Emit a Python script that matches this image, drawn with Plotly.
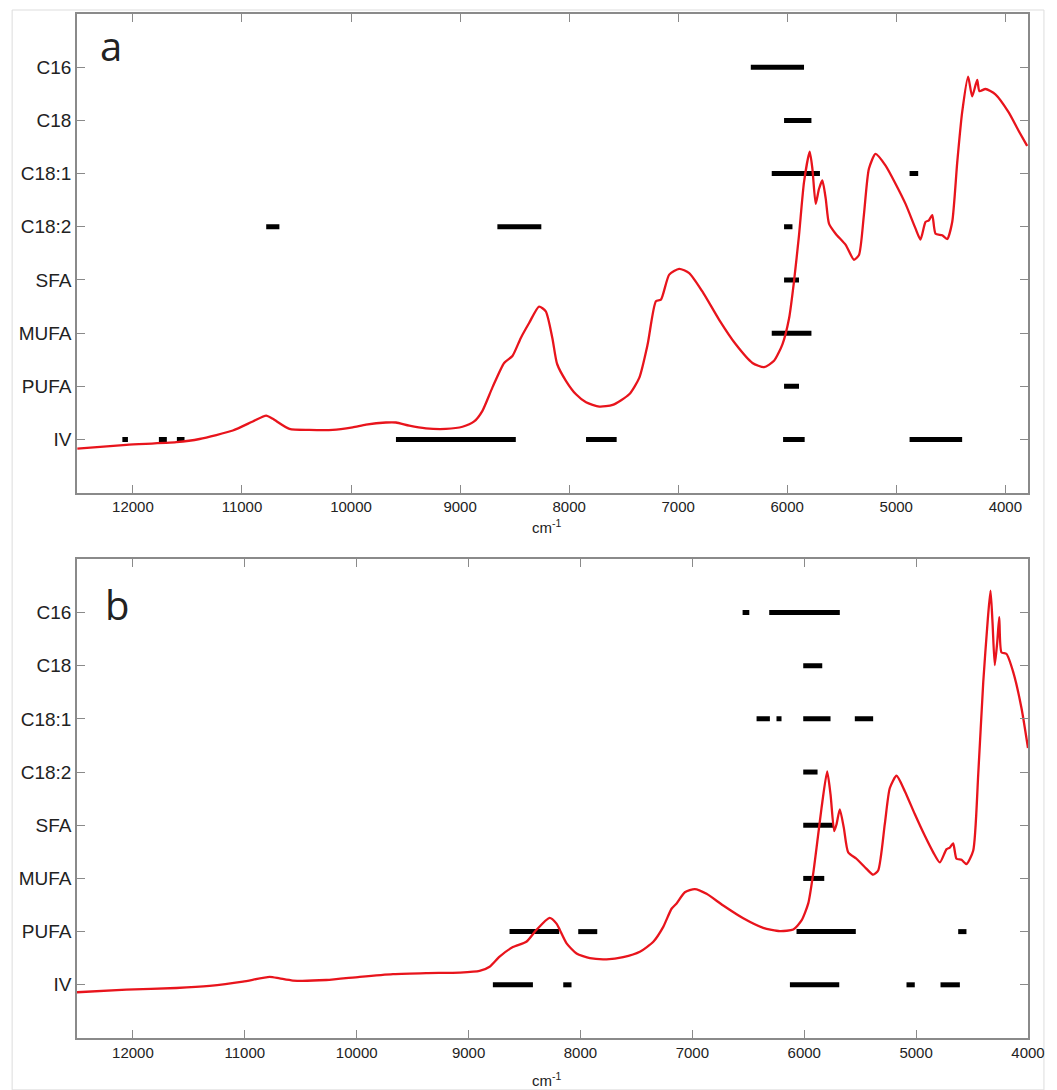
import plotly.graph_objects as go

# ---------------- data ----------------
categories = ["IV", "PUFA", "MUFA", "SFA", "C18:2", "C18:1", "C18", "C16"]
cat_pos = [1, 2, 3, 4, 5, 6, 7, 8]
x_ticks = [12000, 11000, 10000, 9000, 8000, 7000, 6000, 5000, 4000]

# panel a: mean spectrum (wavenumber, relative intensity in category units)
a_wn = [12510, 12060, 11603, 11389, 11084, 10901, 10778, 10718, 10565, 10382,
        10168, 9985, 9863, 9680, 9588, 9466, 9313, 9130, 8978, 8871, 8795, 8703,
        8596, 8520, 8443, 8367, 8276, 8214, 8154, 8110, 8028, 7937, 7845, 7723,
        7601, 7449, 7357, 7280, 7204, 7158, 7082, 6991, 6899, 6777, 6624, 6472,
        6319, 6212, 6121, 6044, 5983, 5938, 5892, 5846, 5794, 5769, 5739, 5709,
        5678, 5647, 5617, 5556, 5464, 5388, 5342, 5297, 5251, 5190, 5098, 5007,
        4915, 4824, 4778, 4732, 4701, 4670, 4640, 4579, 4533, 4487, 4441, 4396,
        4341, 4304, 4258, 4237, 4182, 4091, 3969, 3877, 3800]
a_int = [0.83, 0.90, 0.95, 1.01, 1.17, 1.34, 1.45, 1.39, 1.20, 1.18,
         1.18, 1.23, 1.28, 1.32, 1.32, 1.26, 1.21, 1.20, 1.24, 1.34, 1.54, 1.98,
         2.44, 2.57, 2.91, 3.19, 3.50, 3.41, 2.91, 2.42, 2.10, 1.85, 1.70, 1.62,
         1.65, 1.85, 2.16, 2.79, 3.60, 3.63, 4.10, 4.21, 4.13, 3.78, 3.25, 2.79,
         2.44, 2.36, 2.48, 2.79, 3.28, 3.97, 4.84, 5.84, 6.41, 6.09, 5.43, 5.71,
         5.87, 5.53, 5.06, 4.87, 4.66, 4.38, 4.47, 5.22, 6.09, 6.37, 6.15, 5.81,
         5.43, 4.97, 4.76, 5.09, 5.12, 5.22, 4.87, 4.84, 4.77, 5.09, 6.21, 7.15,
         7.82, 7.45, 7.76, 7.55, 7.59, 7.49, 7.15, 6.80, 6.52]

# panel b: mean spectrum
b_wn = [12500, 12059, 11612, 11315, 11017, 10778, 10689, 10570, 10272, 9974,
        9676, 9378, 9080, 8902, 8812, 8723, 8604, 8484, 8395, 8276, 8214, 8184,
        8124, 8035, 7916, 7767, 7618, 7469, 7349, 7260, 7186, 7141, 7067, 6978,
        6873, 6724, 6545, 6367, 6218, 6098, 6024, 5964, 5920, 5875, 5845, 5795,
        5765, 5732, 5711, 5682, 5646, 5607, 5533, 5443, 5384, 5339, 5280, 5235,
        5175, 5101, 5012, 4922, 4847, 4788, 4728, 4699, 4669, 4639, 4594, 4550,
        4490, 4445, 4400, 4359, 4335, 4317, 4297, 4275, 4257, 4237, 4192, 4132,
        4058, 4000]
b_int = [0.86, 0.91, 0.94, 0.98, 1.06, 1.15, 1.12, 1.08, 1.09, 1.15,
         1.20, 1.22, 1.23, 1.26, 1.34, 1.53, 1.71, 1.81, 2.03, 2.26, 2.15, 2.03,
         1.78, 1.59, 1.50, 1.48, 1.52, 1.62, 1.81, 2.09, 2.43, 2.53, 2.74, 2.80,
         2.71, 2.49, 2.25, 2.07, 2.01, 2.04, 2.21, 2.53, 3.09, 3.83, 4.33, 5.01,
         4.58, 3.89, 4.02, 4.30, 3.95, 3.49, 3.37, 3.18, 3.07, 3.15, 4.02, 4.70,
         4.93, 4.64, 4.21, 3.80, 3.49, 3.30, 3.55, 3.58, 3.66, 3.37, 3.35, 3.27,
         3.52, 4.95, 6.69, 7.88, 8.41, 7.81, 7.01, 7.44, 7.91, 7.25, 7.22, 6.88,
         6.20, 5.45]

# selected wavenumber intervals (start, end) per parameter
a_intervals = {
    "C16": [(6334, 5846)],
    "C18": [(6029, 5778)],
    "C18:1": [(6142, 5700), (4878, 4799)],
    "C18:2": [(10778, 10657), (8658, 8255), (6029, 5952)],
    "SFA": [(6029, 5892)],
    "MUFA": [(6142, 5778)],
    "PUFA": [(6029, 5892)],
    "IV": [(12097, 12046), (11762, 11689), (11597, 11527), (9588, 8489),
           (7845, 7564), (6038, 5840), (4878, 4396)],
}
b_intervals = {
    "C16": [(6551, 6491), (6313, 5682)],
    "C18": [(6009, 5839)],
    "C18:1": [(6426, 6307), (6248, 6203), (6009, 5765), (5548, 5384)],
    "C18:2": [(6009, 5881)],
    "SFA": [(6009, 5741)],
    "MUFA": [(6009, 5821)],
    "PUFA": [(8634, 8190), (8020, 7850), (6069, 5539), (4624, 4550)],
    "IV": [(8783, 8425), (8154, 8080), (6128, 5687), (5086, 5012), (4782, 4609)],
}

x_range_a = [12513, 3792]
x_range_b = [12500, 4000]

# ---------------- figure ----------------
FONT = "Liberation Sans, Arial, Helvetica, sans-serif"
AXIS_GRAY = "#8a8a8a"
RED = "#e8141c"


def interval_xy(intervals):
    xs, ys = [], []
    for cat, pos in zip(categories, cat_pos):
        for s, e in intervals.get(cat, []):
            xs += [s, e, None]
            ys += [pos, pos, None]
    return xs, ys


fig = go.Figure()

xa, ya = interval_xy(a_intervals)
fig.add_trace(go.Scatter(x=xa, y=ya, mode="lines", line=dict(color="black", width=5),
                         xaxis="x", yaxis="y", showlegend=False, hoverinfo="skip"))
fig.add_trace(go.Scatter(x=a_wn, y=a_int, mode="lines",
                         line=dict(color=RED, width=2.3, shape="spline", smoothing=0.6),
                         xaxis="x", yaxis="y", showlegend=False))

xb, yb = interval_xy(b_intervals)
fig.add_trace(go.Scatter(x=xb, y=yb, mode="lines", line=dict(color="black", width=5),
                         xaxis="x2", yaxis="y2", showlegend=False, hoverinfo="skip"))
fig.add_trace(go.Scatter(x=b_wn, y=b_int, mode="lines",
                         line=dict(color=RED, width=2.3, shape="spline", smoothing=0.6),
                         xaxis="x2", yaxis="y2", showlegend=False))

common_x = dict(tickvals=x_ticks, ticktext=[str(v) for v in x_ticks], ticks="inside",
                ticklen=8, tickwidth=1.2, tickcolor=AXIS_GRAY, showline=True,
                linecolor=AXIS_GRAY, linewidth=1.5, mirror="ticks", showgrid=False,
                zeroline=False, tickfont=dict(family=FONT, size=15, color="#222"))
common_y = dict(tickvals=cat_pos, ticktext=categories, ticks="inside", ticklen=8,
                tickwidth=1.2, tickcolor=AXIS_GRAY, showline=True, linecolor=AXIS_GRAY,
                linewidth=1.5, mirror="ticks", showgrid=False, zeroline=False,
                range=[0, 9], tickfont=dict(family=FONT, size=19, color="#222"))

fig.update_layout(
    width=1057, height=1090,
    margin=dict(l=77, r=27, t=12, b=52),
    paper_bgcolor="white", plot_bgcolor="white",
    xaxis=dict(domain=[0, 1], anchor="y", range=x_range_a, **common_x),
    yaxis=dict(domain=[0.5325, 1.0], anchor="x", **common_y),
    xaxis2=dict(domain=[0, 1], anchor="y2", range=x_range_b, **common_x),
    yaxis2=dict(domain=[0, 0.4675], anchor="x2", **common_y),
    showlegend=False,
)

ann = dict(xref="paper", yref="paper", showarrow=False, xanchor="center", yanchor="middle")
fig.add_annotation(text="a", x=(111 - 77) / 953, y=(1038 - 44) / 1026,
                   font=dict(family="Open Sans, sans-serif", size=40, color="#222"), **ann)
fig.add_annotation(text="b", x=(117 - 77) / 953, y=(1038 - 604) / 1026,
                   font=dict(family="Open Sans, sans-serif", size=40, color="#222"), **ann)
fig.add_annotation(text="cm<sup>-1</sup>", x=(547 - 77) / 953, y=(1038 - 526) / 1026,
                   font=dict(family=FONT, size=15, color="#222"), **ann)
fig.add_annotation(text="cm<sup>-1</sup>", x=(547 - 77) / 953, y=(1038 - 1080) / 1026,
                   font=dict(family=FONT, size=15, color="#222"), **ann)

# faint outer frame of the original figure
fig.add_shape(type="rect", xref="paper", yref="paper",
              x0=(12 - 77) / 953, x1=(1046 - 77) / 953, y0=(1038 - 1090) / 1026,
              y1=(1038 - 8) / 1026, line=dict(color="#dddddd", width=1), layer="below")

fig.write_html("out.html", config={"displayModeBar": False},
               post_script="document.body.style.margin='0';document.body.style.overflow='hidden';")
